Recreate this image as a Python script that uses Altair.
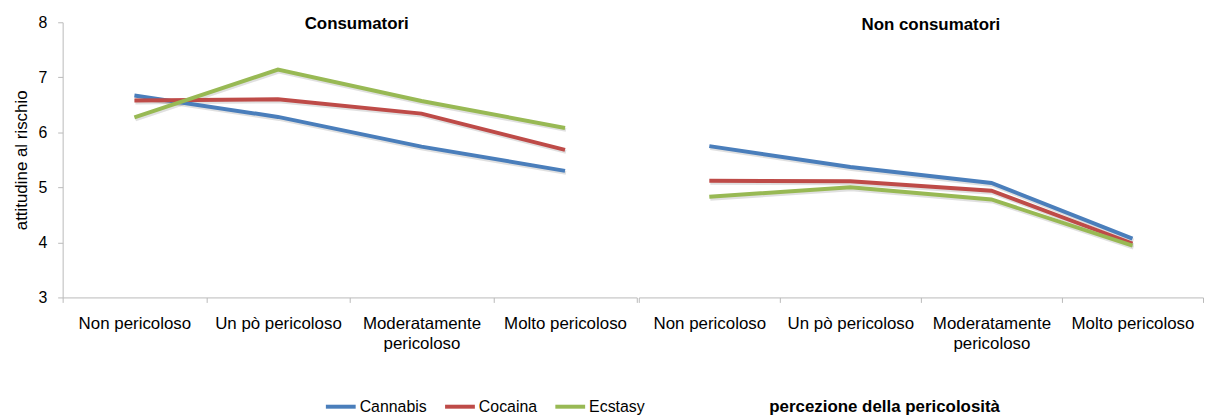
import altair as alt
import pandas as pd

categories = ["Non pericoloso", "Un pò pericoloso", "Moderatamente pericoloso", "Molto pericoloso"]
series = ["Cannabis", "Cocaina", "Ecstasy"]
colors = ["#4A7EBB", "#BE4B48", "#98B954"]
groups = ["Consumatori", "Non consumatori"]

cons_cannabis = [6.67, 6.28, 5.74, 5.30]
cons_cocaina = [6.58, 6.60, 6.34, 5.68]
cons_ecstasy = [6.27, 7.14, 6.57, 6.08]
non_cannabis = [5.75, 5.37, 5.08, 4.07]
non_cocaina = [5.12, 5.11, 4.94, 3.98]
non_ecstasy = [4.83, 5.00, 4.78, 3.94]

values = {
    ("Consumatori", "Cannabis"): cons_cannabis,
    ("Consumatori", "Cocaina"): cons_cocaina,
    ("Consumatori", "Ecstasy"): cons_ecstasy,
    ("Non consumatori", "Cannabis"): non_cannabis,
    ("Non consumatori", "Cocaina"): non_cocaina,
    ("Non consumatori", "Ecstasy"): non_ecstasy,
}

rows = []
for (g, s), vals in values.items():
    for i, (c, v) in enumerate(zip(categories, vals)):
        rows.append({"gruppo": g, "sostanza": s, "categoria": c, "ordine": i, "valore": v})
df = pd.DataFrame(rows)

FONT = "Liberation Sans"
AXIS_GRAY = "#B9B9B9"
label_expr = "datum.value == 'Moderatamente pericoloso' ? ['Moderatamente', 'pericoloso'] : datum.value"


def panel(group, width, show_y, show_legend, xtitle, title_offset, title_dx):
    base = alt.Chart(df[df["gruppo"] == group])
    x_axis_kwargs = dict(
        labelAngle=0, labelExpr=label_expr, labelFontSize=17, labelColor="#000000",
        labelFont=FONT, labelPadding=13, labelLineHeight=20, labelLimit=250,
        tickBand="extent", tickSize=5, tickColor=AXIS_GRAY, domainColor=AXIS_GRAY,
        grid=False,
    )
    if xtitle:
        x_axis_kwargs.update(
            title=xtitle, titleFont=FONT, titleFontSize=17, titleFontWeight="bold",
            titleColor="#000000", titleX=247, titleY=110, titleAlign="center",
            titleBaseline="middle", titleAngle=0,
        )
    else:
        x_axis_kwargs.update(title=None)
    x = alt.X(
        "categoria:N", sort=categories,
        scale=alt.Scale(type="band", paddingInner=0, paddingOuter=0),
        axis=alt.Axis(**x_axis_kwargs),
    )
    if show_y:
        y_axis = alt.Axis(
            title="attitudine al rischio", titleFont=FONT, titleFontSize=17,
            titleFontWeight="normal", titleColor="#000000", titlePadding=7,
            values=[3, 4, 5, 6, 7, 8], labelFont=FONT, labelFontSize=16,
            labelColor="#000000", labelPadding=11, tickSize=5, tickColor=AXIS_GRAY,
            domainColor=AXIS_GRAY, grid=False,
        )
    else:
        y_axis = None
    y = alt.Y("valore:Q", scale=alt.Scale(domain=[3, 8], nice=False, zero=False), axis=y_axis)

    shadow = base.mark_line(strokeWidth=4, color="#000000", opacity=0.12, xOffset=1, yOffset=2).encode(
        x=x, y=y, detail="sostanza:N", order="ordine:Q"
    )
    if show_legend:
        legend = alt.Legend(
            orient="none", legendX=263, legendY=370, direction="horizontal", title=None,
            symbolType="stroke", symbolStrokeWidth=4, symbolSize=900, labelFont=FONT,
            labelFontSize=16, labelColor="#000000", columnPadding=10, labelOffset=2,
        )
    else:
        legend = None
    line = base.mark_line(strokeWidth=4).encode(
        x=x, y=y,
        color=alt.Color("sostanza:N", scale=alt.Scale(domain=series, range=colors), legend=legend),
        order="ordine:Q",
    )
    return alt.layer(shadow, line).properties(
        width=width, height=277,
        title=alt.TitleParams(
            text=group, font=FONT, fontSize=17, fontWeight="bold", color="#000000",
            offset=title_offset, anchor="middle", dx=title_dx,
        ),
    )


left = panel("Consumatori", 578, True, True, None, -19, 7)
right = panel("Non consumatori", 568, False, False, "percezione della pericolosità", -12, 10)

chart = alt.hconcat(left, right, spacing=0).resolve_scale(color="shared").properties(
    padding={"left": 5, "right": 0, "top": 5, "bottom": 0}
).configure_view(stroke=None)

chart.save("out.html", embed_options={"renderer": "svg", "actions": False})
